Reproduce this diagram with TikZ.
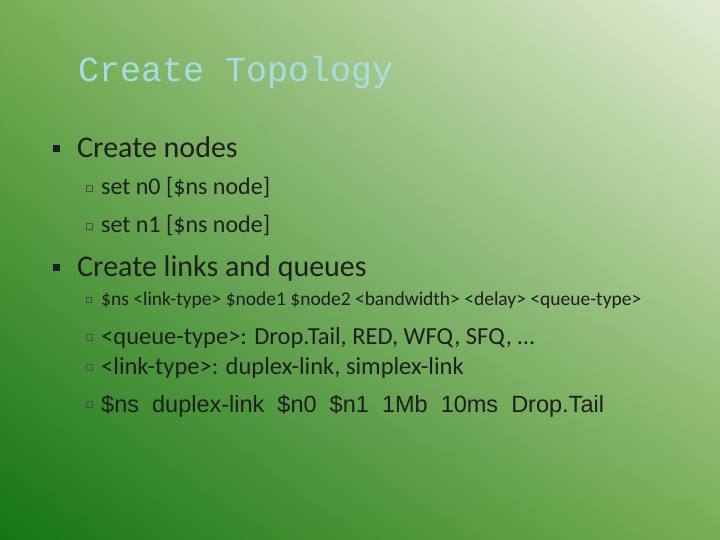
\documentclass[tikz,border=0pt]{standalone}
\usepackage{fontspec}
\usetikzlibrary{shadings}
\setmainfont{Carlito}
\newfontfamily\titlefont{Liberation Mono}
\newfontfamily\arialfont{Liberation Sans}
\definecolor{dkgreen}{HTML}{157515}
\definecolor{midgreen}{HTML}{78AE55}
\definecolor{pale}{HTML}{E2EBD4}
\definecolor{titlecol}{HTML}{A6DDE0}
\definecolor{txt}{HTML}{1E1E1E}
\begin{document}
\begin{tikzpicture}[x=1pt,y=-1pt,
  lvone/.style={anchor=base west,font=\fontsize{30}{32}\selectfont,text=txt,inner sep=0},
  lvtwo/.style={anchor=base west,font=\fontsize{24.5}{27}\selectfont,text=txt,inner sep=0},
  bone/.style={fill=txt},
  btwo/.style={draw=txt!80,line width=0.7pt}]
\useasboundingbox (0,0) rectangle (720,540);
\shade[upper right=pale,lower left=dkgreen,upper left=midgreen,lower right=midgreen] (0,0) rectangle (720,540);
\node[anchor=base west,inner sep=0,text=titlecol,font=\titlefont\fontsize{35}{40}\selectfont] (title) at (78,82) {Create Topology};
\node[bone,minimum size=7,inner sep=0] (b1) at (56,149) {};
\node[lvone] (t1) at (77,158) {Create nodes};
\node[btwo,minimum size=6,inner sep=0] (b2) at (89,188) {};
\node[lvtwo,font=\fontsize{24}{27}\selectfont] (t2) at (101,195) {set n0 [\$ns node]};
\node[btwo,minimum size=6,inner sep=0] (b3) at (89,226) {};
\node[lvtwo,font=\fontsize{24}{27}\selectfont] (t3) at (101,233) {set n1 [\$ns node]};
\node[bone,minimum size=7,inner sep=0] (b4) at (56,267) {};
\node[lvone] (t4) at (77,276) {Create links and queues};
\node[btwo,minimum size=5,inner sep=0] (b5) at (89,300) {};
\node[lvtwo,font=\fontsize{19.5}{22}\selectfont] (t5) at (101,305) {\$ns <link-type> \$node1 \$node2 <bandwidth> <delay> <queue-type>};
\node[btwo,minimum size=6,inner sep=0] (b6) at (89,337) {};
\node[lvtwo] (t6) at (101,344) {<queue-type>: Drop.Tail, RED, WFQ, SFQ, …};
\node[btwo,minimum size=6,inner sep=0] (b7) at (89,367) {};
\node[lvtwo] (t7) at (101,374) {<link-type>: duplex-link, simplex-link};
\node[btwo,minimum size=6,inner sep=0] (b8) at (89,404) {};
\node[lvtwo,font=\arialfont\fontsize{23.5}{26}\selectfont] (t8) at (101,412) {\$ns\ \ duplex-link\ \ \$n0\ \ \$n1\ \ 1Mb\ \ 10ms\ \ Drop.Tail};
\end{tikzpicture}
\end{document}
